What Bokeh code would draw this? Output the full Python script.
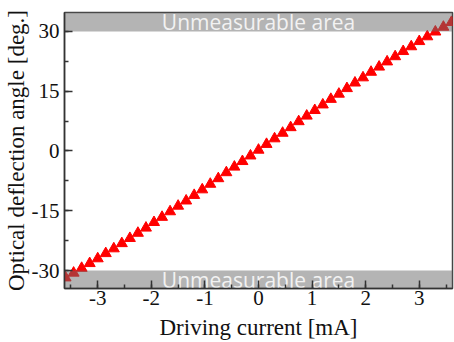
from bokeh.plotting import figure
from bokeh.models import FixedTicker, Range1d, ColumnDataSource
from bokeh.embed import file_html
from bokeh.resources import INLINE
from bokeh.core.properties import value

current_mA = [-3.6, -3.45, -3.3, -3.15, -3.0, -2.85, -2.7, -2.55, -2.4, -2.25,
              -2.1, -1.95, -1.8, -1.65, -1.5, -1.35, -1.2, -1.05, -0.9, -0.75,
              -0.6, -0.45, -0.3, -0.15, 0.0, 0.15, 0.3, 0.45, 0.6, 0.75,
              0.9, 1.05, 1.2, 1.35, 1.5, 1.65, 1.8, 1.95, 2.1, 2.25,
              2.4, 2.55, 2.7, 2.85, 3.0, 3.15, 3.3, 3.45, 3.6]
angle_deg = [-31.8, -30.6, -29.4, -28.2, -27.0, -25.7, -24.5, -23.2, -21.9, -20.6,
             -19.3, -17.9, -16.6, -15.2, -13.8, -12.5, -11.1, -9.7, -8.3, -6.9,
             -5.4, -4.0, -2.6, -1.2, 0.25, 1.7, 3.1, 4.5, 5.9, 7.4,
             8.8, 10.2, 11.6, 13.0, 14.3, 15.7, 17.1, 18.4, 19.8, 21.1,
             22.4, 23.7, 25.0, 26.2, 27.5, 28.7, 29.9, 31.1, 32.3]

x_ticks = [-3, -2, -1, 0, 1, 2, 3]
y_ticks = [-30, -15, 0, 15, 30]
limit_deg = 30
x_lim = (-3.62, 3.62)
y_lim = (-34.5, 34.75)
band_label = "Unmeasurable area"

p = figure(width=454, height=342, output_backend="svg", toolbar_location=None,
           x_range=Range1d(*x_lim), y_range=Range1d(*y_lim),
           min_border_left=63, min_border_right=2, min_border_top=12, min_border_bottom=10)

src = ColumnDataSource(dict(x=current_mA, y=angle_deg))
p.scatter("x", "y", source=src, marker="triangle", size=11,
          fill_color="#ff0000", line_color="#ff0000")

# unmeasurable bands (semi-transparent over markers)
p.quad(left=[x_lim[0], x_lim[0]], right=[x_lim[1], x_lim[1]],
       bottom=[limit_deg, y_lim[0]], top=[y_lim[1], -limit_deg],
       fill_color="#6a6a6a", fill_alpha=0.5, line_color=None)

p.text(x=[0, 0], y=[(limit_deg + y_lim[1]) / 2, (-limit_deg + y_lim[0]) / 2],
       text=[band_label, band_label], text_align="center", text_baseline="middle",
       text_font=value("Open Sans"), text_font_size="21px", text_color="#f2f2f2")

p.grid.visible = False
p.background_fill_color = "white"
p.outline_line_color = "#444444"
p.outline_line_width = 1.5

for ax in (p.xaxis[0], p.yaxis[0]):
    ax.major_tick_in = 8
    ax.major_tick_out = 0
    ax.minor_tick_in = 4
    ax.minor_tick_out = 0
    ax.axis_line_color = "#333333"
    ax.axis_line_width = 1.5
    ax.major_tick_line_color = "#333333"
    ax.minor_tick_line_color = "#333333"
    ax.major_tick_line_width = 1.5
    ax.minor_tick_line_width = 1.5
    ax.major_label_text_font = "Liberation Serif"
    ax.major_label_text_font_size = "21px"
    ax.major_label_text_color = "#111111"
    ax.axis_label_text_font = "Liberation Serif"
    ax.axis_label_text_font_size = "23px"
    ax.axis_label_text_font_style = "normal"
    ax.axis_label_text_color = "#111111"

p.xaxis.ticker = FixedTicker(ticks=x_ticks, minor_ticks=[t / 2 for t in range(-7, 8)])
p.yaxis.ticker = FixedTicker(ticks=y_ticks, minor_ticks=[t * 7.5 for t in range(-4, 5)])
p.xaxis.major_label_overrides = {t: str(t) for t in x_ticks}
p.yaxis.major_label_overrides = {t: str(t) for t in y_ticks}
p.xaxis.major_label_standoff = 2
p.yaxis.major_label_standoff = 5
p.xaxis.axis_label = "Driving current [mA]"
p.yaxis.axis_label = "Optical deflection angle [deg.]"
p.xaxis.axis_label_standoff = 7
p.yaxis.axis_label_standoff = 0

open("out.html", "w").write(file_html(p, INLINE))
